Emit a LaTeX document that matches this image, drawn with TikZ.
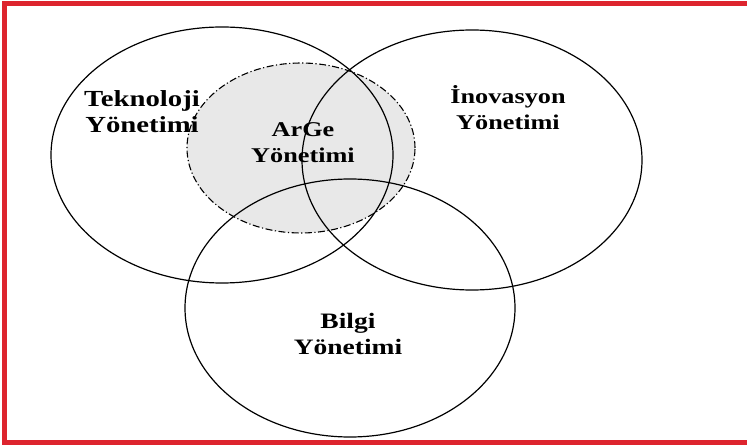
\documentclass[tikz,border=0pt]{standalone}
\usepackage{fontspec}
\setmainfont{Liberation Serif}[FakeStretch=1.25]
\definecolor{frame}{RGB}{221,36,46}
\definecolor{shade}{RGB}{232,232,232}
\begin{document}
\begin{tikzpicture}[x=1pt,y=-1pt,
  set/.style={draw=black,line width=1.2pt},
  core/.style={draw=black,line width=1.1pt,fill=shade,
    dash pattern=on 7pt off 2.5pt on 1.2pt off 2.5pt},
  lbl/.style={align=center,font=\bfseries\fontsize{#1}{26}\selectfont,inner sep=0pt},
  lbl/.default=22]
  % canvas
  \useasboundingbox (0,0) rectangle (747,446);
  \fill[white] (0,0) rectangle (747,446);
  % red frame, open on the right
  \draw[frame,line width=5pt] (747,3.5) -- (4.5,3.5) -- (4.5,442.5) -- (747,442.5);
  % shaded R&D area
  \draw[core] (301,148) ellipse [x radius=114pt, y radius=85pt];
  % the three management fields
  \draw[set] (222,155) ellipse [x radius=171pt, y radius=128pt];
  \draw[set] (472,160) ellipse [x radius=170pt, y radius=130pt];
  \draw[set] (350,308) ellipse [x radius=165pt, y radius=129pt];
  % labels
  \node[lbl=23] (tek) at (142,112) {Teknoloji\\Yönetimi};
  \node[lbl=21] (ino) at (508,108) {İnovasyon\\Yönetimi};
  \node[lbl=21] (arge) at (303,143) {ArGe\\Yönetimi};
  \node[lbl=22] (bil) at (348,334) {Bilgi\\Yönetimi};
\end{tikzpicture}
\end{document}
